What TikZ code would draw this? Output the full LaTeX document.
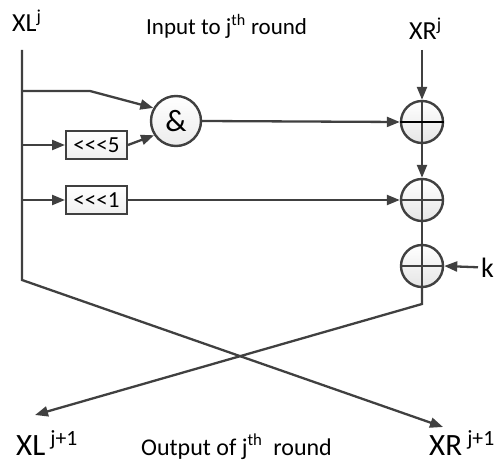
\documentclass[tikz,border=0pt]{standalone}
\usepackage{fontspec}
\setmainfont{Carlito}
\usetikzlibrary{arrows.meta}
\definecolor{wire}{RGB}{64,64,64}
\tikzset{
  wireline/.style={draw=wire,line width=2.3pt},
  tipline/.style={wireline,-{Triangle[length=13pt,width=10pt]}},
  xorgate/.style={circle,draw=wire,line width=2.4pt,minimum size=42pt,inner sep=0pt,
    top color=white,bottom color=gray!20,
    path picture={\draw[wire,line width=1.3pt]
      (path picture bounding box.north) -- (path picture bounding box.south)
      (path picture bounding box.west) -- (path picture bounding box.east);}},
  andgate/.style={circle,draw=wire,line width=2.4pt,minimum size=50pt,inner sep=0pt,
    top color=white,bottom color=gray!15,font=\fontsize{31}{33}\selectfont},
  rotbox/.style={rectangle,draw=wire,line width=2pt,minimum width=61pt,minimum height=28pt,
    inner sep=0pt,top color=white,bottom color=gray!12,font=\fontsize{23}{25}\selectfont},
  label/.style={anchor=base west,inner sep=0pt}
}
\begin{document}
\begin{tikzpicture}[x=1pt,y=1pt,yscale=-1,xscale=1]
  \useasboundingbox (0,0) rectangle (495,462);

  % Text Node
  \node[label,font=\fontsize{26}{30}\selectfont] (xlin) at (12,32) {XL\textsuperscript{j}};
  % Text Node
  \node[label,font=\fontsize{23}{26}\selectfont] (intext) at (146,35) {Input to j\textsuperscript{th} round};
  % Text Node
  \node[label,font=\fontsize{26}{30}\selectfont] (xrin) at (409,40) {XR\textsuperscript{j}};
  % Text Node
  \node[label,font=\fontsize{31}{34}\selectfont] (xlnext) at (16,455) {XL\,\textsuperscript{j+1}};
  % Text Node
  \node[label,font=\fontsize{24}{27}\selectfont] (outtext) at (141,455) {Output of j\textsuperscript{th}\ \ round};
  % Text Node
  \node[label,font=\fontsize{31}{34}\selectfont] (xrnext) at (429,455) {XR\,\textsuperscript{j+1}};
  % Text Node
  \node[anchor=base west,inner sep=3pt,font=\fontsize{28}{30}\selectfont] (key) at (478,277) {k};

  % gates
  \node[andgate] (andop) at (176,121) {\&};
  \node[rotbox] (rot5) at (96.5,145) {<{}<{}<5};
  \node[rotbox] (rot1) at (96.5,200) {<{}<{}<1};
  \node[xorgate] (xor1) at (422,122) {};
  \node[xorgate] (xor2) at (422,200) {};
  \node[xorgate] (xor3) at (422,266) {};
  %thick bar in the first xor
  \draw[black,line width=2.6pt] (xor1.west) -- (xor1.east);

  % wire ends and bends
  \coordinate (xltop) at (22,50);
  \coordinate (xlbend) at (22,280);
  \coordinate (xrtop) at (422,50);
  \coordinate (xrbend) at (422,304);
  \coordinate (xlend) at (35,415);
  \coordinate (xrend) at (443,427);
  \coordinate (andtap) at (22,91);
  \coordinate (andbend) at (90,91);
  \coordinate (rot5tap) at (22,145);
  \coordinate (rot1tap) at (22,200);

  %Straight Lines
  \draw[tipline] (xltop) -- (xlbend) -- (xrend);
  \draw[tipline] (xrtop) -- (xor1.north);
  \draw[tipline] (xor1.south) -- (xor2.north);
  \draw[wireline] (xor2.south) -- (xor3.north);
  \draw[tipline] (xor3.south) -- (xrbend) -- (xlend);
  \draw[tipline] (key.west) -- (xor3.east);
  \draw[tipline] (andtap) -- (andbend) -- (andop.150);
  \draw[tipline] (rot5tap) -- (rot5.west);
  \draw[tipline] (rot5.east) -- (andop.213);
  \draw[tipline] (rot1tap) -- (rot1.west);
  \draw[tipline] (andop.east) -- (xor1.west);
  \draw[tipline] (rot1.east) -- (xor2.west);
\end{tikzpicture}
\end{document}
